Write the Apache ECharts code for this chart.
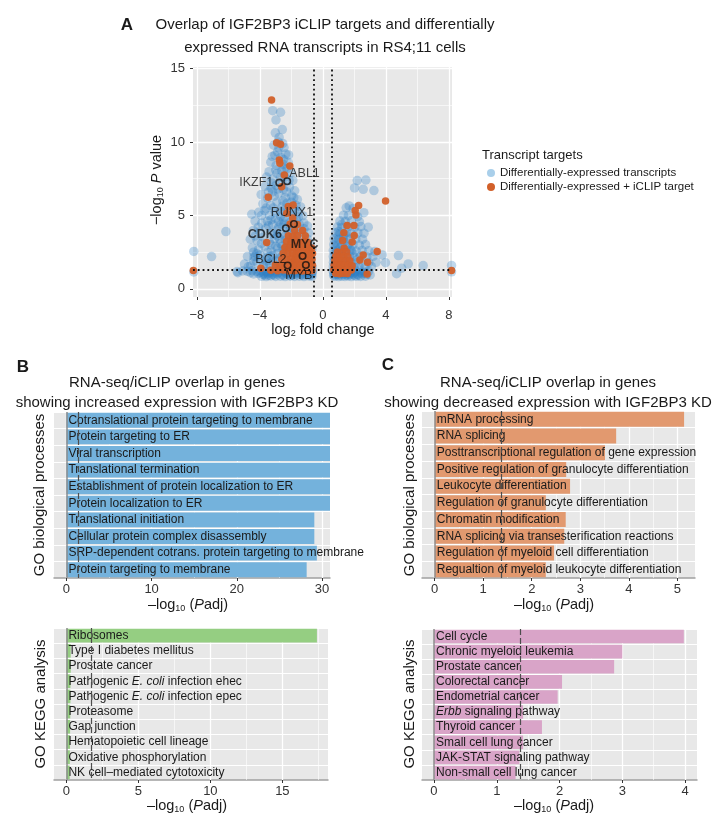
<!DOCTYPE html>
<html><head><meta charset="utf-8">
<script src="https://cdn.jsdelivr.net/npm/echarts@6/dist/echarts.min.js"></script>
<style>html,body{margin:0;padding:0;background:#fff}#c{width:727px;height:830px}</style>
</head><body><div id="c"></div>
<script>
// ---------------- DATA ----------------
// Panel A : volcano plot (log2 fold change, -log10 P)
const blueLeft = [
[-3.19,12.13],[-2.69,12.02],[-2.98,11.5],
[-3.02,10.62],[-2.78,10.31],[-2.58,10.84],[-3.12,9.78],[-2.47,9.62],[-2.88,9.33],[-2.36,9.18],[-3.22,9.01],[-2.67,8.96],[-2.18,9.12],
[-3.31,8.62],[-2.97,8.41],[-2.52,8.47],[-2.28,8.18],[-3.42,7.98],[-2.91,7.86],[-2.61,8.04],[-2.02,7.92],[-3.58,7.61],[-3.18,7.48],[-2.42,7.63],[-1.91,7.38],
[-3.68,6.98],[-3.29,6.87],[-2.98,7.04],[-2.51,6.79],[-2.12,6.93],[-1.79,6.68],[-3.92,6.42],[-3.51,6.18],[-3.09,6.31],[-2.81,6.52],[-2.39,6.21],[-1.98,6.33],[-1.62,6.08],[-3.81,5.79],[-3.32,5.68],[-2.92,5.91],[-2.58,5.62],[-2.29,5.83],[-1.71,5.69],[-1.42,5.58],
[-4.52,5.08],[-4.08,5.21],[-3.71,5.32],[-3.38,4.98],[-3.02,5.19],[-2.69,4.97],[-2.41,4.88],[-1.98,5.12],[-1.58,5.21],[-1.28,4.98],[-4.31,4.62],[-3.88,4.48],[-3.52,4.61],[-3.19,4.38],[-2.81,4.59],[-2.48,4.41],[-2.09,4.52],[-1.68,4.71],[-1.21,4.49],[-0.98,4.28],[-4.42,3.98],[-4.01,3.88],[-3.61,4.12],[-3.28,3.79],[-2.92,4.01],[-2.58,3.72],[-2.19,3.91],[-1.82,4.02],[-1.38,3.89],[-0.91,3.81],
[-4.61,3.38],[-4.18,3.29],[-3.79,3.52],[-3.41,3.18],[-3.08,3.41],[-2.71,3.09],[-2.38,3.31],[-1.98,3.42],[-1.59,3.19],[-1.18,3.31],[-0.82,3.08],[-4.48,2.79],[-4.09,2.68],[-3.71,2.91],[-3.29,2.58],[-2.88,2.79],[-2.51,2.61],[-2.18,2.82],[-1.79,2.59],[-1.41,2.72],[-0.98,2.58],[-0.69,2.71],[-4.79,2.21],[-4.38,2.18],[-3.98,2.31],[-3.58,2.09],[-3.19,2.28],[-2.79,2.08],[-2.38,2.21],[-1.98,1.98],[-1.61,2.19],[-1.19,2.02],[-0.79,2.11],
[-4.98,1.69],[-4.58,1.58],[-4.19,1.81],[-3.78,1.59],[-3.38,1.71],[-2.98,1.49],[-2.59,1.68],[-2.21,1.51],[-1.79,1.69],[-1.41,1.48],[-0.99,1.61],[-0.68,1.49],
[-2.6,7.2],[-2.3,6.6],[-2.0,5.9],[-2.7,5.3],[-2.2,5.3],[-1.8,5.4],[-3.0,4.8],[-2.5,4.7],[-1.9,4.8],[-1.5,4.4],[-2.8,4.2],[-2.3,4.2],[-1.6,3.7],[-2.9,3.6],[-2.4,3.6],[-1.9,3.7],[-3.3,3.0],[-2.6,2.9],[-2.0,3.0],[-1.3,2.9],[-3.5,2.5],[-2.9,2.4],[-2.3,2.5],[-1.5,2.4],[-3.6,1.9],[-3.0,1.9],[-2.4,1.8],[-1.2,1.8],[-0.9,2.4],[-0.75,1.8],[-2.8,9.6],[-2.5,8.8],[-3.0,8.1],[-2.2,8.6],[-2.7,7.6],[-3.2,6.6],[-3.6,5.5],[-3.9,5.0],[-4.1,4.2],[-4.3,3.6],[-4.4,2.5],[-3.95,2.0],[-3.2,1.9],
[-2.85,10.0],[-2.55,9.9],[-3.05,9.1],[-2.45,8.2],[-3.25,7.2],[-2.85,6.8],[-2.15,7.4],[-3.45,6.6],[-2.55,6.0],[-1.85,6.2],[-3.15,5.5],[-2.45,5.4],[-1.55,4.9],[-3.3,4.7],[-2.65,4.4],[-2.05,4.2],[-1.2,4.1],[-3.45,4.3],[-3.1,3.7],[-2.75,3.4],[-1.75,3.3],[-1.0,3.4],[-3.9,3.1],[-3.0,2.9],[-2.4,2.7],[-1.65,2.9],[-4.2,2.4],[-3.4,2.2],[-2.6,2.2],[-1.4,2.1],[-4.4,1.9],[-3.6,1.7],[-2.8,1.6],[-1.6,1.6],[-0.85,1.7],
[-5.1,1.22],[-4.8,1.2],[-4.5,1.24],[-4.2,1.19],[-3.9,1.23],[-3.6,1.18],[-3.3,1.22],[-3.0,1.2],[-2.7,1.24],[-2.4,1.18],[-2.1,1.22],[-1.8,1.2],[-1.5,1.23],[-1.2,1.19],[-0.9,1.22],[-0.66,1.2],
[-4.4,1.02],[-4.1,1.05],[-3.8,0.99],[-3.5,1.04],[-3.2,1.0],[-2.9,1.03],[-2.6,0.98],[-2.3,1.04],[-2.0,1.0],[-1.7,1.03],[-1.4,0.99],[-1.1,1.04],[-0.8,1.0],
[-3.9,0.86],[-3.6,0.84],[-3.3,0.88],[-3.0,0.85],[-2.7,0.87],[-2.4,0.84],[-2.1,0.88],[-1.8,0.85],[-1.5,0.87],[-1.2,0.84],[-0.9,0.88],[-0.7,0.85],
[-4.0,1.12],[-3.4,1.1],[-2.8,1.13],[-2.2,1.1],[-1.6,1.12],[-1.0,1.1],[-3.7,0.94],[-3.1,0.95],[-2.5,0.93],[-1.9,0.95],[-1.3,0.94],[-0.75,0.94],
[-4.6,1.1],[-3.75,1.08],[-3.05,1.1],[-2.35,1.08],[-1.75,1.09],[-1.15,0.97],[-0.68,1.06],[-2.05,0.9],[-3.45,0.92],
[-6.16,3.9],[-7.07,2.2],[-8.2,2.55],[-8.2,1.15],[-5.4,1.1],[-5.45,1.18],[-4.74,1.5],[-4.3,2.2]
];
const blueRight = [
[2.18,7.37],[2.73,7.41],[2.01,6.87],[2.56,6.78],[3.24,6.69],[1.67,5.65],[2.6,5.19],[2.88,4.2],
[1.48,5.52],[1.92,5.48],[1.31,5.02],[1.62,4.98],[2.21,4.91],[1.08,4.62],[1.42,4.58],[1.81,4.63],[2.32,4.57],[0.92,4.21],[1.19,4.18],[1.58,4.22],[2.02,4.19],[2.41,4.24],[0.81,3.82],[1.09,3.79],[1.51,3.84],[1.79,3.78],[2.22,3.81],[2.61,3.79],[0.71,3.41],[0.98,3.38],[1.29,3.42],[1.71,3.39],[2.09,3.41],[2.52,3.38],[0.69,3.01],[0.91,2.98],[1.21,3.02],[1.58,2.99],[1.91,3.01],[2.31,2.98],[2.71,3.02],[0.66,2.61],[0.89,2.58],[1.18,2.62],[1.49,2.59],[1.81,2.61],[2.11,2.58],[2.49,2.62],[2.91,2.59],[3.3,2.54],[0.66,2.21],[0.88,2.18],[1.09,2.22],[1.41,2.19],[1.69,2.21],[1.98,2.18],[2.39,2.22],[2.79,2.19],[3.19,2.21],[3.77,2.31],[0.67,1.81],[0.89,1.78],[1.18,1.82],[1.49,1.79],[1.79,1.81],[2.09,1.78],[2.51,1.82],[2.91,1.79],[3.38,1.81],[3.98,1.78],[0.66,1.51],[0.88,1.48],[1.11,1.52],[1.39,1.49],[1.68,1.51],[1.98,1.48],[2.29,1.52],[2.68,1.49],[3.08,1.51],
[1.0,3.9],[1.3,3.6],[0.85,3.2],[1.1,2.8],[1.4,2.4],[0.75,2.4],[1.0,2.0],[1.3,1.6],[0.8,1.65],[1.6,2.9],[1.9,2.4],[2.2,2.0],[1.5,3.6],
[1.2,4.4],[0.95,3.6],[1.35,3.2],[0.8,2.8],[1.25,2.2],[0.72,2.0],[1.55,1.7],[0.95,1.7],[1.75,2.7],[1.15,1.35],
[0.65,1.22],[0.85,1.19],[1.05,1.23],[1.25,1.2],[1.45,1.22],[1.65,1.18],[1.85,1.22],[2.1,1.2],[2.35,1.23],[2.6,1.19],[2.9,1.21],[0.7,1.02],[0.9,0.99],[1.1,1.03],[1.3,1.0],[1.5,1.04],[1.7,0.98],[1.9,1.02],[2.2,1.0],[2.5,1.03],[2.8,0.99],[0.75,0.86],[1.0,0.84],[1.2,0.87],[1.4,0.85],[1.6,0.88],[1.8,0.84],[2.1,0.86],[2.4,0.85],[2.7,0.87],[0.8,1.1],[1.2,1.12],[1.6,1.1],[2.0,1.11],[2.4,1.1],[1.0,0.94],[1.5,0.95],[2.0,0.93],
[0.68,0.92],[1.35,1.08],[1.75,1.1],[2.25,0.92],[2.65,1.08],[3.0,0.95],
[4.8,2.27],[5.42,1.7],[5.0,1.41],[6.37,1.59],[4.68,1.04],[8.17,1.6],[8.17,1.16]
];
const orangeLeft = [
[-3.26,12.86],[-2.94,9.95],[-2.69,9.84],[-2.77,8.77],[-2.1,8.37],[-2.73,8.55],[-3.47,6.24],[-2.2,5.6],[-1.89,5.71],[-2.3,5.15],[-3.57,3.15],[-3.94,1.41],[-8.23,1.25],[-2.45,7.75],[-2.62,6.95],
[-1.92,4.82],[-1.62,4.38],[-2.08,4.42],[-1.79,3.98],[-1.29,3.97],[-2.19,3.62],[-1.91,3.58],[-1.61,3.63],[-1.12,3.61],[-2.31,3.22],[-2.02,3.18],[-1.71,3.23],[-1.49,3.17],[-1.21,3.22],[-0.98,3.19],[-2.41,2.82],[-2.12,2.78],[-1.89,2.83],[-1.61,2.79],[-1.38,2.82],[-1.11,2.78],[-0.89,2.82],[-0.71,2.79],[-2.52,2.42],[-2.21,2.38],[-1.92,2.43],[-1.71,2.38],[-1.49,2.42],[-1.19,2.39],[-0.98,2.42],[-0.79,2.38],[-0.66,2.41],[-2.61,2.02],[-2.29,1.98],[-2.01,2.03],[-1.79,1.97],[-1.58,2.02],[-1.31,1.98],[-1.09,2.02],[-0.89,1.98],[-0.69,2.02],[-3.02,1.62],[-2.71,1.58],[-2.42,1.63],[-2.09,1.58],[-1.88,1.62],[-1.69,1.57],[-1.42,1.63],[-1.19,1.58],[-0.98,1.62],[-0.79,1.58],[-0.66,1.61],[-3.31,1.27],[-2.88,1.23],[-2.52,1.28],[-2.19,1.22],[-1.98,1.27],[-1.78,1.23],[-1.51,1.28],[-1.29,1.22],[-1.09,1.27],[-0.88,1.23],[-0.69,1.26]
];
const orangeRight = [
[3.98,5.99],[2.27,5.67],[2.05,5.33],[2.1,5.03],[1.54,4.31],[1.97,4.31],[1.33,3.83],[1.99,3.63],[1.25,3.29],[1.86,3.2],[1.35,2.77],[3.45,2.54],[2.56,2.31],[2.35,1.97],[2.84,1.81],[2.81,1.02],[8.17,1.25],
[0.92,2.52],[1.21,2.48],[1.5,2.53],[0.81,2.21],[1.02,2.18],[1.31,2.22],[1.58,2.19],[0.76,1.91],[0.96,1.88],[1.19,1.92],[1.44,1.89],[1.71,1.91],[0.71,1.61],[0.91,1.58],[1.12,1.62],[1.36,1.59],[1.61,1.61],[1.86,1.58],[0.69,1.31],[0.89,1.28],[1.11,1.32],[1.31,1.29],[1.56,1.31],[1.81,1.28],[0.81,1.06],[1.06,1.04],[1.31,1.07],[1.56,1.05]
];
const geneNames = ['IKZF1','ABL1','RUNX1','CDK6','MYC','MYB','BCL2'];
const geneX = [-2.77,-2.27,-1.84,-2.35,-1.29,-1.08,-2.24];
const geneY = [7.23,7.33,4.42,4.13,2.24,1.63,1.59];
const volcanoXTicks = [-8,-4,0,4,8];
const volcanoYTicks = [0,5,10,15];
const fcThreshold = 0.585;
const pThreshold = 1.3;

// Panel B : increased expression
const bpUpCats = ['Cotranslational protein targeting to membrane','Protein targeting to ER','Viral transcription','Translational termination','Establishment of protein localization to ER','Protein localization to ER','Translational initiation','Cellular protein complex disassembly','SRP-dependent cotrans. protein targeting to membrane','Protein targeting to membrane'];
const bpUpVals = [31,31,31,31,31,31,29.1,29.1,29.4,28.2];
const bpUpTicks = [0,10,20,30];
const keggUpCats = ['Ribosomes','Type I diabetes mellitus','Prostate cancer','Pathogenic E. coli infection ehec','Pathogenic E. coli infection epec','Proteasome','Gap junction','Hematopoietic cell lineage','Oxidative phosphorylation','NK cell\u2013mediated cytotoxicity'];
const keggUpVals = [17.4,0.3,0.3,0.28,0.28,0.27,0.26,0.25,0.24,0.23];
const keggUpTicks = [0,5,10,15];
// Panel C : decreased expression
const bpDownCats = ['mRNA processing','RNA splicing','Posttranscriptional regulation of gene expression','Positive regulation of granulocyte differentiation','Leukocyte differentiation','Regulation of granulocyte differentiation','Chromatin modification','RNA splicing via transesterification reactions','Regulation of myeloid cell differentiation','Regualtion of myeloid leukocyte differentiation'];
const bpDownVals = [5.14,3.74,3.51,2.71,2.79,2.29,2.70,2.67,2.46,2.29];
const bpDownTicks = [0,1,2,3,4,5];
const keggDownCats = ['Cell cycle','Chronic myeloid leukemia','Prostate cancer','Colorectal cancer','Endometrial cancer','Erbb signaling pathway','Thyroid cancer','Small cell lung cancer','JAK-STAT signaling pathway','Non-small cell lung cancer'];
const keggDownVals = [3.98,3.0,2.87,2.04,1.97,1.42,1.72,1.42,1.36,1.30];
const keggDownTicks = [0,1,2,3,4];
const sigLines = [1.37,1.74,1.37,1.38];

// ---------------- STYLE ----------------
const FONT = '"Liberation Sans", Arial, Helvetica, sans-serif';
const PANEL = '#E8E8E8';
const TXT = '#1a1a1a';
const chart = echarts.init(document.getElementById('c'), null, {renderer:'canvas'});

const grids = [
  {left:193, top:67, width:259, height:230},
  {left:54, top:412, width:276, height:166},
  {left:54, top:628, width:274, height:152},
  {left:422, top:411, width:273, height:167},
  {left:422, top:629, width:275, height:151}
].map(g => Object.assign({show:true, backgroundColor:PANEL, borderWidth:0, containLabel:false}, g));

function minors(t){ const r=[]; for(let i=0;i<t.length-1;i++) r.push((t[i]+t[i+1])/2); return r; }

function valueAxis(gi, min, max, ticks, margin, fmt){
  return {type:'value', gridIndex:gi, min, max,
    axisLine:{show:false, onZero:false},
    axisTick:{show:true, customValues:ticks, length:3, lineStyle:{color:'#333', width:1}},
    axisLabel:{customValues:ticks, color:'#333', fontSize:13, fontFamily:FONT, margin, formatter: fmt || (v=>String(v))},
    splitLine:{show:false}};
}
const minusFmt = v => String(v).replace('-', '\u2212');

const xAxes = [
  valueAxis(0, -8.25, 8.2, volcanoXTicks, 12, minusFmt),
  valueAxis(1, -1.46, 30.94, bpUpTicks, 5),
  valueAxis(2, -0.86, 18.17, keggUpTicks, 5),
  valueAxis(3, -0.262, 5.365, bpDownTicks, 5),
  valueAxis(4, -0.191, 4.19, keggDownTicks, 5)
];
for (let i=1;i<5;i++){ xAxes[i].axisLine = {show:true, onZero:false, lineStyle:{color:'#a0a0a0', width:1.5}}; }

function catAxis(gi, cats){
  return {type:'category', gridIndex:gi, data:cats, inverse:true,
    axisLabel:{show:false}, axisTick:{show:false}, axisLine:{show:false},
    splitLine:{show:true, interval:0, lineStyle:{color:'#fff', width:1}}};
}
const yAxes = [
  valueAxis(0, -0.55, 15.1, volcanoYTicks, 8),
  catAxis(1, bpUpCats), catAxis(2, keggUpCats), catAxis(3, bpDownCats), catAxis(4, keggDownCats)
];

function gridLineSeries(gi, majX, minX, majY, minY){
  const d = [];
  majX.forEach(v=>d.push({xAxis:v, lineStyle:{width:1.3}}));
  minX.forEach(v=>d.push({xAxis:v, lineStyle:{width:0.6}}));
  majY.forEach(v=>d.push({yAxis:v, lineStyle:{width:1.3}}));
  minY.forEach(v=>d.push({yAxis:v, lineStyle:{width:0.6}}));
  return {type:'line', xAxisIndex:gi, yAxisIndex:gi, data:[], z:1, silent:true,
    markLine:{z:1, silent:true, symbol:'none', label:{show:false}, animation:false,
      lineStyle:{color:'#fff', type:'solid'}, data:d}};
}

const labelRich = {
  n:{fontSize:12, fontFamily:FONT, color:TXT},
  i:{fontSize:12, fontFamily:FONT, color:TXT, fontStyle:'italic'}
};
function catLabel(name){
  if (name.indexOf('E. coli')>=0){ const p=name.split('E. coli'); return '{n|'+p[0]+'}{i|E. coli}{n|'+p[1]+'}'; }
  if (name.indexOf('Erbb')===0){ return '{i|Erbb}{n|'+name.slice(4)+'}'; }
  return '{n|'+name+'}';
}
function barSeries(gi, vals, color){
  return {type:'bar', xAxisIndex:gi, yAxisIndex:gi, data:vals, barCategoryGap:'10%', clip:true, z:2,
    itemStyle:{color}, label:{show:true, position:'insideLeft', distance:2, formatter:p=>catLabel(p.name), rich:labelRich}};
}
function refSeries(gi, sig){
  return {type:'line', xAxisIndex:gi, yAxisIndex:gi, data:[], z:5, silent:true,
    markLine:{z:5, silent:true, symbol:'none', label:{show:false}, animation:false,
      data:[
        {xAxis:0, lineStyle:{color:'#8c8c8c', width:1.5, type:'solid'}},
        {xAxis:sig, lineStyle:{color:'#4d4d4d', width:1.2, type:[6,3]}}
      ]}};
}

const geneLabelPos = {
  IKZF1:{position:'left', distance:2, offset:[0,0], fontWeight:'normal'},
  ABL1:{position:'right', distance:0, offset:[-2,-8], fontWeight:'normal'},
  RUNX1:{position:'top', distance:1, offset:[-2,0], fontWeight:'normal'},
  CDK6:{position:'left', distance:0, offset:[0,6.5], fontWeight:'bold'},
  MYC:{position:'top', distance:1, offset:[2,0], fontWeight:'bold'},
  MYB:{position:'bottom', distance:0, offset:[-7,0], fontWeight:'normal'},
  BCL2:{position:'left', distance:0, offset:[3,-6.5], fontWeight:'normal'}
};
const geneData = geneNames.map((n,i)=>{
  const s = geneLabelPos[n];
  return {name:n, value:[geneX[i], geneY[i]],
    label:{show:true, formatter:n, position:s.position, distance:s.distance, offset:s.offset,
      fontWeight:s.fontWeight, fontSize:12.5, fontFamily:FONT, color:'#111'}};
});

const series = [
  gridLineSeries(0, volcanoXTicks, minors(volcanoXTicks), volcanoYTicks, minors(volcanoYTicks)),
  {name:'Differentially-expressed transcripts', type:'scatter', xAxisIndex:0, yAxisIndex:0, symbolSize:9.5, z:2,
    data: blueLeft.concat(blueRight), itemStyle:{color:'#2A7FC4', opacity:0.3}},
  {name:'Differentially-expressed + iCLIP target', type:'scatter', xAxisIndex:0, yAxisIndex:0, symbolSize:7.5, z:3,
    data: orangeLeft.concat(orangeRight), itemStyle:{color:'#D2602A', opacity:0.95}},
  {type:'scatter', xAxisIndex:0, yAxisIndex:0, symbolSize:6.5, z:6, data:geneData,
    itemStyle:{color:'rgba(0,0,0,0)', borderColor:'#111', borderWidth:1.6}},
  {type:'line', xAxisIndex:0, yAxisIndex:0, data:[], z:5, silent:true,
    markLine:{z:5, silent:true, symbol:'none', label:{show:false}, animation:false,
      lineStyle:{color:'#111', width:1.8, type:[1.8,3]},
      data:[{xAxis:-fcThreshold},{xAxis:fcThreshold},{yAxis:pThreshold}]}},
  gridLineSeries(1, bpUpTicks, minors(bpUpTicks), [], []),
  gridLineSeries(2, keggUpTicks, minors(keggUpTicks).concat([17.5]), [], []),
  gridLineSeries(3, bpDownTicks, minors(bpDownTicks), [], []),
  gridLineSeries(4, keggDownTicks, minors(keggDownTicks), [], []),
  barSeries(1, bpUpVals, '#74B2DC'),
  barSeries(2, keggUpVals, '#95CE82'),
  barSeries(3, bpDownVals, '#E2996F'),
  barSeries(4, keggDownVals, '#D9A4C8'),
  refSeries(1, sigLines[0]), refSeries(2, sigLines[1]), refSeries(3, sigLines[2]), refSeries(4, sigLines[3])
];

const sub = {fontSize:9, fontFamily:FONT, color:TXT, padding:[8,0,0,0]};
const base = {fontSize:14.5, fontFamily:FONT, color:TXT};
const ital = {fontSize:14.5, fontFamily:FONT, color:TXT, fontStyle:'italic'};
function txt(x,y,text,opt){
  return Object.assign({type:'text', x, y, silent:true,
    style:Object.assign({text, fill:TXT, font:'15px '+FONT, align:'center', verticalAlign:'middle'}, opt||{})});
}
const padjLabel = '{a|\u2013log}{s|10}{a| (}{i|P}{a|adj)}';
const richSet = {a:base, s:sub, i:ital};
const graphic = [
  txt(127,25,'A',{font:'bold 17px '+FONT}),
  txt(325,25,'Overlap of IGF2BP3 iCLIP targets and differentially'),
  txt(325,48,'expressed RNA transcripts in RS4;11 cells'),
  txt(323,330,'{a|log}{s|2}{a| fold change}',{rich:richSet}),
  Object.assign(txt(157,180,'{a|\u2212log}{s|10}{i| P}{a| value}',{rich:richSet}),{rotation:Math.PI/2}),
  txt(482,155,'Transcript targets',{font:'13px '+FONT, align:'left'}),
  txt(23,367,'B',{font:'bold 17px '+FONT}),
  txt(177,383,'RNA-seq/iCLIP overlap in genes'),
  txt(177,403,'showing increased expression with IGF2BP3 KD'),
  txt(388,365,'C',{font:'bold 17px '+FONT}),
  txt(548,383,'RNA-seq/iCLIP overlap in genes'),
  txt(548,403,'showing decreased expression with IGF2BP3 KD'),
  txt(188,605,padjLabel,{rich:richSet}),
  txt(187,806,padjLabel,{rich:richSet}),
  txt(554,605,padjLabel,{rich:richSet}),
  txt(554,806,padjLabel,{rich:richSet}),
  Object.assign(txt(40,495,'GO biological processes'),{rotation:Math.PI/2}),
  Object.assign(txt(41,704,'GO KEGG analysis'),{rotation:Math.PI/2}),
  Object.assign(txt(410,495,'GO biological processes'),{rotation:Math.PI/2}),
  Object.assign(txt(410,704,'GO KEGG analysis'),{rotation:Math.PI/2})
];

chart.setOption({
  animation:false,
  textStyle:{fontFamily:FONT},
  grid:grids, xAxis:xAxes, yAxis:yAxes, series, graphic,
  legend:{left:482, top:162, orient:'vertical', itemWidth:8, itemHeight:8, itemGap:2, icon:'circle', selectedMode:false,
    textStyle:{fontSize:11.5, color:TXT, fontFamily:FONT},
    data:[{name:'Differentially-expressed transcripts', itemStyle:{color:'#A9CFEA', opacity:1}},
          {name:'Differentially-expressed + iCLIP target', itemStyle:{color:'#D2602A', opacity:1}}]}
});
</script></body></html>
